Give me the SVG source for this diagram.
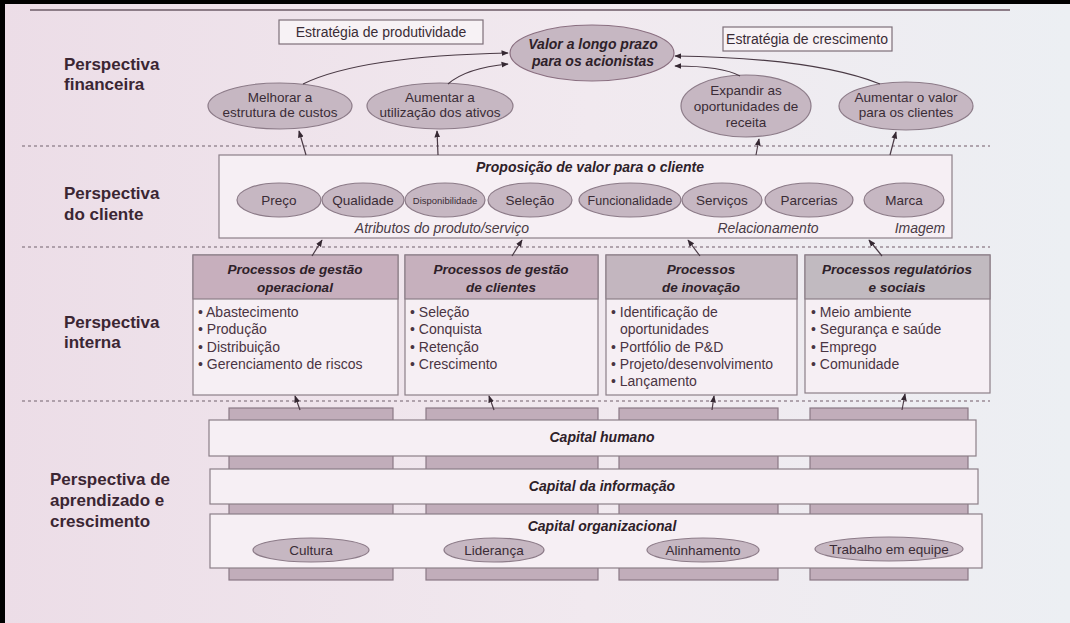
<svg xmlns="http://www.w3.org/2000/svg" width="1070" height="623" viewBox="0 0 1070 623">
<defs>
<linearGradient id="paper" x1="0" y1="0" x2="1" y2="0">
<stop offset="0" stop-color="#ecdde7"/>
<stop offset="0.55" stop-color="#f1e9ef"/>
<stop offset="1" stop-color="#eceff3"/>
</linearGradient>
<marker id="ah" viewBox="0 0 10 10" refX="9" refY="5" markerWidth="6" markerHeight="6" orient="auto-start-reverse">
<path d="M0,1 L10,5 L0,9 z" fill="#352832"/>
</marker>
<style>
.lbl{font-family:"Liberation Sans",Arial,sans-serif;font-weight:bold;font-size:17px;fill:#3b2633}
.el{fill:#c6b7c2;stroke:#8c7b88;stroke-width:1.2}
.et{font-family:"Liberation Sans",Arial,sans-serif;font-size:13.5px;fill:#3a2c36;text-anchor:middle}
.bi{font-family:"Liberation Sans",Arial,sans-serif;font-size:13.5px;font-weight:bold;font-style:italic;fill:#2e2129;text-anchor:middle}
.it{font-family:"Liberation Sans",Arial,sans-serif;font-size:14px;font-style:italic;fill:#4a3b45;text-anchor:middle}
.li{font-family:"Liberation Sans",Arial,sans-serif;font-size:14px;fill:#4a3442}
.box{fill:#f6eff4;stroke:#8c7f88;stroke-width:1.2}
.hdr{stroke:#8c7f88;stroke-width:1.2}
.stub{fill:#c1adba;stroke:#8a7985;stroke-width:1.2}
.dash{stroke:#9b8c97;stroke-width:1.3;stroke-dasharray:3 3;fill:none}
.arr{fill:none;stroke:#4a3a45;stroke-width:1.2;marker-end:url(#ah)}
.sbox{fill:#f7f2f5;stroke:#7d6f79;stroke-width:1.2}
.st{font-family:"Liberation Sans",Arial,sans-serif;font-size:14px;fill:#3a2c36;text-anchor:middle}
</style>
</defs>

<rect x="0" y="0" width="1070" height="623" fill="url(#paper)"/>
<rect x="0" y="0" width="1070" height="4" fill="#000"/>
<rect x="0" y="0" width="5" height="623" fill="#000"/>
<line x1="30" y1="10" x2="1010" y2="10" stroke="#8d7d88" stroke-width="2"/>

<g id="separators">
<line class="dash" x1="22" y1="146" x2="990" y2="146"/>
<line class="dash" x1="22" y1="247" x2="990" y2="247"/>
<line class="dash" x1="22" y1="401" x2="990" y2="401"/>
</g>

<g id="labels">
<text class="lbl" x="64" y="70">Perspectiva</text>
<text class="lbl" x="64" y="90">financeira</text>
<text class="lbl" x="64" y="199">Perspectiva</text>
<text class="lbl" x="64" y="220">do cliente</text>
<text class="lbl" x="64" y="328">Perspectiva</text>
<text class="lbl" x="64" y="348">interna</text>
<text class="lbl" x="50" y="485">Perspectiva de</text>
<text class="lbl" x="50" y="506">aprendizado e</text>
<text class="lbl" x="50" y="527">crescimento</text>
</g>

<g id="estrategia-produtividade">
<rect class="sbox" x="279" y="20" width="204" height="24"/>
<text class="st" x="381" y="37">Estratégia de produtividade</text>
</g>
<g id="estrategia-crescimento">
<rect class="sbox" x="723" y="27" width="169" height="24"/>
<text class="st" x="807" y="44">Estratégia de crescimento</text>
</g>
<g id="valor">
<ellipse class="el" cx="592" cy="53" rx="82" ry="28" style="stroke:#8a6f80"/>
<text class="bi" x="593" y="49" style="font-size:14px">Valor a longo prazo</text>
<text class="bi" x="593" y="66" style="font-size:14px">para os acionistas</text>
</g>
<g id="melhorar">
<ellipse class="el" cx="280" cy="106" rx="72" ry="23"/>
<text class="et" x="280" y="102">Melhorar a</text>
<text class="et" x="280" y="117">estrutura de custos</text>
</g>
<g id="aumentar-ativos">
<ellipse class="el" cx="440" cy="106" rx="73" ry="23"/>
<text class="et" x="440" y="102">Aumentar a</text>
<text class="et" x="440" y="117">utilização dos ativos</text>
</g>
<g id="expandir">
<ellipse class="el" cx="746" cy="106" rx="65" ry="31"/>
<text class="et" x="746" y="95">Expandir as</text>
<text class="et" x="746" y="111">oportunidades de</text>
<text class="et" x="746" y="127">receita</text>
</g>
<g id="aumentar-valor">
<ellipse class="el" cx="906" cy="106" rx="67" ry="24"/>
<text class="et" x="906" y="102">Aumentar o valor</text>
<text class="et" x="906" y="117">para os clientes</text>
</g>

<g id="cliente">
<rect class="box" x="219" y="155" width="733" height="83"/>
<text class="bi" x="590" y="172" style="font-size:14px">Proposição de valor para o cliente</text>
<ellipse class="el" cx="279" cy="200" rx="42" ry="17"/>
<text class="et" x="279" y="205">Preço</text>
<ellipse class="el" cx="363" cy="200" rx="41" ry="17"/>
<text class="et" x="363" y="205">Qualidade</text>
<ellipse class="el" cx="445" cy="200" rx="40" ry="17"/>
<text class="et" x="445" y="204" style="font-size:9.5px">Disponibilidade</text>
<ellipse class="el" cx="530" cy="200" rx="42" ry="17"/>
<text class="et" x="530" y="205">Seleção</text>
<ellipse class="el" cx="630" cy="200" rx="51" ry="17"/>
<text class="et" x="630" y="205" style="font-size:12.5px">Funcionalidade</text>
<ellipse class="el" cx="722" cy="200" rx="40" ry="17"/>
<text class="et" x="722" y="205">Serviços</text>
<ellipse class="el" cx="809" cy="200" rx="44" ry="17"/>
<text class="et" x="809" y="205">Parcerias</text>
<ellipse class="el" cx="904" cy="200" rx="40" ry="17"/>
<text class="et" x="904" y="205">Marca</text>
<text class="it" x="442" y="233">Atributos do produto/serviço</text>
<text class="it" x="768" y="233">Relacionamento</text>
<text class="it" x="920" y="233">Imagem</text>
</g>

<g id="proc-operacional">
<rect class="box" x="193" y="255" width="205" height="140"/>
<rect class="hdr" x="193" y="255" width="205" height="44" fill="#c7afbd"/>
<text class="bi" x="295" y="274">Processos de gestão</text>
<text class="bi" x="295" y="292">operacional</text>
<text class="li" x="198" y="317">• Abastecimento</text>
<text class="li" x="198" y="334">• Produção</text>
<text class="li" x="198" y="352">• Distribuição</text>
<text class="li" x="198" y="369">• Gerenciamento de riscos</text>
</g>
<g id="proc-clientes">
<rect class="box" x="405" y="255" width="193" height="140"/>
<rect class="hdr" x="405" y="255" width="193" height="44" fill="#c6b0bd"/>
<text class="bi" x="501" y="274">Processos de gestão</text>
<text class="bi" x="501" y="292">de clientes</text>
<text class="li" x="410" y="317">• Seleção</text>
<text class="li" x="410" y="334">• Conquista</text>
<text class="li" x="410" y="352">• Retenção</text>
<text class="li" x="410" y="369">• Crescimento</text>
</g>
<g id="proc-inovacao">
<rect class="box" x="606" y="255" width="191" height="140"/>
<rect class="hdr" x="606" y="255" width="191" height="44" fill="#c3b6bf"/>
<text class="bi" x="701" y="274">Processos</text>
<text class="bi" x="701" y="292">de inovação</text>
<text class="li" x="611" y="317">• Identificação de</text>
<text class="li" x="620" y="334">oportunidades</text>
<text class="li" x="611" y="352">• Portfólio de P&amp;D</text>
<text class="li" x="611" y="369">• Projeto/desenvolvimento</text>
<text class="li" x="611" y="386">• Lançamento</text>
</g>
<g id="proc-regulatorios">
<rect class="box" x="805" y="255" width="185" height="138"/>
<rect class="hdr" x="805" y="255" width="185" height="44" fill="#c1bac0"/>
<text class="bi" x="897" y="274">Processos regulatórios</text>
<text class="bi" x="897" y="292">e sociais</text>
<text class="li" x="811" y="317">• Meio ambiente</text>
<text class="li" x="811" y="334">• Segurança e saúde</text>
<text class="li" x="811" y="352">• Emprego</text>
<text class="li" x="811" y="369">• Comunidade</text>
</g>

<g id="pilares">
<rect class="stub" x="229" y="408" width="164" height="172"/>
<rect class="stub" x="426" y="408" width="172" height="172"/>
<rect class="stub" x="619" y="408" width="159" height="172"/>
<rect class="stub" x="810" y="408" width="158" height="172"/>
</g>
<g id="capital-humano">
<rect class="box" x="209" y="420" width="767" height="36"/>
<text class="bi" x="602" y="442" style="font-size:14px">Capital humano</text>
</g>
<g id="capital-informacao">
<rect class="box" x="210" y="469" width="768" height="35"/>
<text class="bi" x="602" y="491" style="font-size:14px">Capital da informação</text>
</g>
<g id="capital-organizacional">
<rect class="box" x="210" y="514" width="772" height="54"/>
<text class="bi" x="602" y="531" style="font-size:14px">Capital organizacional</text>
<ellipse class="el" cx="311" cy="550" rx="58" ry="12"/>
<text class="et" x="311" y="555">Cultura</text>
<ellipse class="el" cx="494" cy="550" rx="50" ry="12"/>
<text class="et" x="494" y="555">Liderança</text>
<ellipse class="el" cx="703" cy="550" rx="56" ry="12"/>
<text class="et" x="703" y="555">Alinhamento</text>
<ellipse class="el" cx="889" cy="549" rx="74" ry="12"/>
<text class="et" x="889" y="554">Trabalho em equipe</text>
</g>

<g id="connectors">
<path class="arr" d="M303,84 Q360,56 508,53"/>
<path class="arr" d="M448,84 Q466,68 508,64"/>
<path class="arr" d="M740,76 Q722,66 675,66"/>
<path class="arr" d="M880,84 Q815,58 675,56"/>
<path class="arr" d="M306,155 L299,131"/>
<path class="arr" d="M438,155 L437,131"/>
<path class="arr" d="M756,155 L759,139"/>
<path class="arr" d="M890,155 L896,132"/>
<path class="arr" d="M312,256 L322,240"/>
<path class="arr" d="M512,256 L522,240"/>
<path class="arr" d="M700,256 L688,240"/>
<path class="arr" d="M882,256 L869,240"/>
<path class="arr" d="M300,410 L295,396"/>
<path class="arr" d="M494,410 L489,396"/>
<path class="arr" d="M712,410 L714,396"/>
<path class="arr" d="M902,410 L905,394"/>
</g>
</svg>
